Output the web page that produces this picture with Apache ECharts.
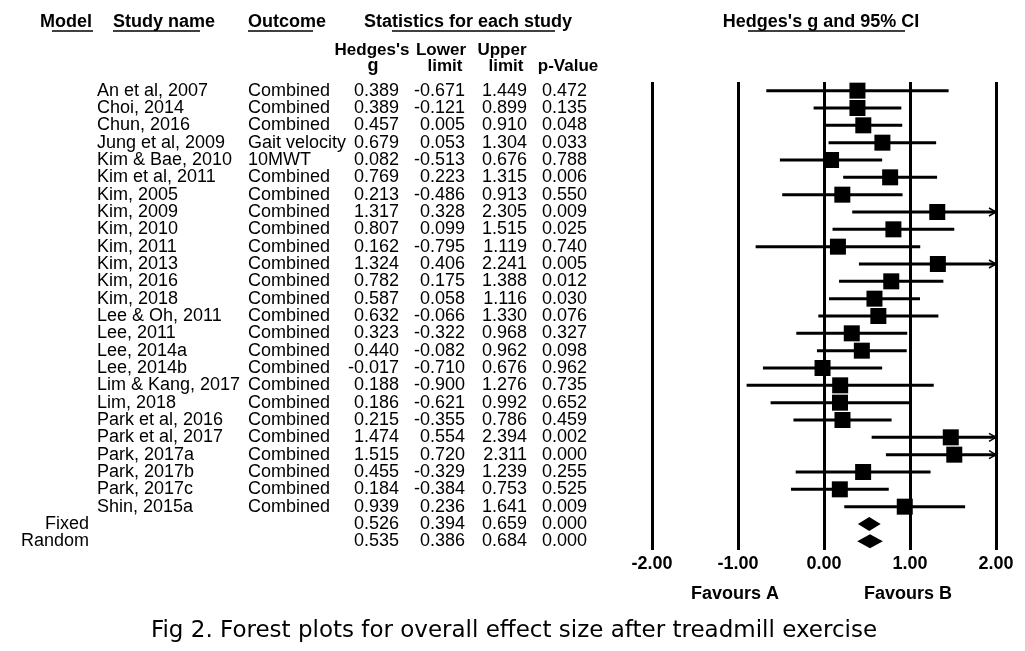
<!DOCTYPE html>
<html>
<head>
<meta charset="utf-8">
<title>Forest plot - treadmill exercise</title>
<script src="https://cdn.jsdelivr.net/npm/echarts@6/dist/echarts.min.js"></script>
<style>
html, body { margin: 0; padding: 0; background: #fff; }
#main { width: 1025px; height: 651px; }
</style>
</head>
<body>
<div id="main"></div>
<script>
// study rows
var studyNames = ['An et al, 2007', 'Choi, 2014', 'Chun, 2016', 'Jung et al, 2009', 'Kim & Bae, 2010',
    'Kim et al, 2011', 'Kim, 2005', 'Kim, 2009', 'Kim, 2010', 'Kim, 2011', 'Kim, 2013', 'Kim, 2016',
    'Kim, 2018', 'Lee & Oh, 2011', 'Lee, 2011', 'Lee, 2014a', 'Lee, 2014b', 'Lim & Kang, 2017',
    'Lim, 2018', 'Park et al, 2016', 'Park et al, 2017', 'Park, 2017a', 'Park, 2017b', 'Park, 2017c',
    'Shin, 2015a'];
var outcomes = ['Combined', 'Combined', 'Combined', 'Gait velocity', '10MWT', 'Combined', 'Combined',
    'Combined', 'Combined', 'Combined', 'Combined', 'Combined', 'Combined', 'Combined', 'Combined',
    'Combined', 'Combined', 'Combined', 'Combined', 'Combined', 'Combined', 'Combined', 'Combined',
    'Combined', 'Combined'];
var gValues = [0.389, 0.389, 0.457, 0.679, 0.082, 0.769, 0.213, 1.317, 0.807, 0.162, 1.324, 0.782,
    0.587, 0.632, 0.323, 0.440, -0.017, 0.188, 0.186, 0.215, 1.474, 1.515, 0.455, 0.184, 0.939];
var lowerLimits = [-0.671, -0.121, 0.005, 0.053, -0.513, 0.223, -0.486, 0.328, 0.099, -0.795, 0.406,
    0.175, 0.058, -0.066, -0.322, -0.082, -0.710, -0.900, -0.621, -0.355, 0.554, 0.720, -0.329, -0.384, 0.236];
var upperLimits = [1.449, 0.899, 0.910, 1.304, 0.676, 1.315, 0.913, 2.305, 1.515, 1.119, 2.241, 1.388,
    1.116, 1.330, 0.968, 0.962, 0.676, 1.276, 0.992, 0.786, 2.394, 2.311, 1.239, 0.753, 1.641];
var pValues = [0.472, 0.135, 0.048, 0.033, 0.788, 0.006, 0.550, 0.009, 0.025, 0.740, 0.005, 0.012,
    0.030, 0.076, 0.327, 0.098, 0.962, 0.735, 0.652, 0.459, 0.002, 0.000, 0.255, 0.525, 0.009];

// summary rows
var modelNames = ['Fixed', 'Random'];
var modelG = [0.526, 0.535];
var modelLower = [0.394, 0.386];
var modelUpper = [0.659, 0.684];
var modelP = [0.000, 0.000];

var xMin = -2, xMax = 2;

var font = '"Liberation Sans", Arial, sans-serif';
var nStudy = studyNames.length;

function fmt(v) { return v.toFixed(3); }
function blanks(n) { var a = []; for (var i = 0; i < n; i++) a.push(''); return a; }

var colName = studyNames.concat(blanks(modelNames.length));
var colOutcome = outcomes.concat(blanks(modelNames.length));
var colModel = blanks(nStudy).concat(modelNames);
var colG = gValues.concat(modelG).map(fmt);
var colLower = lowerLimits.concat(modelLower).map(fmt);
var colUpper = upperLimits.concat(modelUpper).map(fmt);
var colP = pValues.concat(modelP).map(fmt);

var studyData = gValues.map(function (g, i) { return [g, i, lowerLimits[i], upperLimits[i]]; });
var modelData = modelG.map(function (g, i) { return [g, nStudy + i, modelLower[i], modelUpper[i]]; });

function textAxis(data, offset, align) {
    return {
        type: 'category', data: data, inverse: true, position: 'left', offset: offset,
        axisLine: { show: false }, axisTick: { show: false }, splitLine: { show: false },
        axisLabel: { interval: 0, margin: 0, align: align, fontSize: 18, color: '#000', fontFamily: font }
    };
}

function renderStudy(params, api) {
    var g = api.value(0), row = api.value(1), lo = api.value(2), hi = api.value(3);
    var a = api.coord([Math.max(lo, xMin), row]);
    var b = api.coord([Math.min(hi, xMax), row]);
    var c = api.coord([g, row]);
    var kids = [
        { type: 'line', shape: { x1: a[0], y1: a[1], x2: b[0], y2: b[1] }, style: { stroke: '#000', lineWidth: 3 } },
        { type: 'rect', shape: { x: c[0] - 8, y: c[1] - 8, width: 16, height: 16 }, style: { fill: '#000' } }
    ];
    if (hi > xMax) {
        kids.push({ type: 'polyline', shape: { points: [[b[0] - 7, b[1] - 4], [b[0], b[1]], [b[0] - 7, b[1] + 4]] },
            style: { stroke: '#000', fill: null, lineWidth: 1.5 } });
    }
    return { type: 'group', children: kids };
}

function renderDiamond(params, api) {
    var g = api.value(0), row = api.value(1);
    var a = api.coord([api.value(2), row]);
    var b = api.coord([api.value(3), row]);
    var c = api.coord([g, row]);
    return { type: 'polygon', shape: { points: [[a[0], a[1]], [c[0], c[1] - 7], [b[0], b[1]], [c[0], c[1] + 7]] },
        style: { fill: '#000' } };
}

function hText(x, y, s, align, bold, size, family) {
    return { type: 'text', x: x, y: y, style: { text: s, fill: '#000', textAlign: align || 'center', textVerticalAlign: 'middle',
        font: (bold ? 'bold ' : '') + (size || 18) + 'px ' + (family || font) } };
}
function uLine(x1, x2, y) {
    return { type: 'line', shape: { x1: x1, y1: y, x2: x2, y2: y }, style: { stroke: '#000', lineWidth: 1.5 } };
}

var chart = echarts.init(document.getElementById('main'));
chart.setOption({
    animation: false,
    backgroundColor: '#fff',
    grid: { left: 652, right: 29, top: 82, height: 468 },
    xAxis: {
        type: 'value', min: xMin, max: xMax, interval: 1,
        axisLine: { show: false }, axisTick: { show: false },
        splitLine: { show: true, lineStyle: { color: '#000', width: 3 } },
        axisLabel: { margin: 5, fontSize: 18, fontWeight: 'bold', color: '#000', fontFamily: font,
            formatter: function (v) { return v.toFixed(2); } }
    },
    yAxis: [
        textAxis(colName, 555, 'left'),
        textAxis(colOutcome, 404, 'left'),
        textAxis(colModel, 563, 'right'),
        textAxis(colG, 253, 'right'),
        textAxis(colLower, 187, 'right'),
        textAxis(colUpper, 125, 'right'),
        textAxis(colP, 65, 'right')
    ],
    series: [
        { type: 'custom', name: 'studies', yAxisIndex: 0, renderItem: renderStudy, data: studyData },
        { type: 'custom', name: 'summary', yAxisIndex: 0, renderItem: renderDiamond, data: modelData }
    ],
    graphic: [
        hText(66, 22, 'Model', 'center', true),
        uLine(52, 93, 31),
        hText(113, 22, 'Study name', 'left', true),
        uLine(113, 200, 31),
        hText(248, 22, 'Outcome', 'left', true),
        uLine(248, 313, 31),
        hText(468, 22, 'Statistics for each study', 'center', true),
        uLine(392, 555, 31),
        hText(821, 22, "Hedges's g and 95% CI", 'center', true),
        uLine(748, 905, 31),
        hText(372, 50, "Hedges's", 'center', true, 17),
        hText(441, 50, 'Lower', 'center', true, 17),
        hText(502, 50, 'Upper', 'center', true, 17),
        hText(373, 66, 'g', 'center', true),
        hText(445, 66, 'limit', 'center', true, 17),
        hText(506, 66, 'limit', 'center', true, 17),
        hText(568, 66, 'p-Value', 'center', true, 17),
        hText(735, 594, 'Favours A', 'center', true),
        hText(908, 594, 'Favours B', 'center', true),
        hText(514, 631, 'Fig 2. Forest plots for overall effect size after treadmill exercise', 'center', false, 23,
            '"DejaVu Sans", sans-serif')
    ]
});
</script>
</body>
</html>
